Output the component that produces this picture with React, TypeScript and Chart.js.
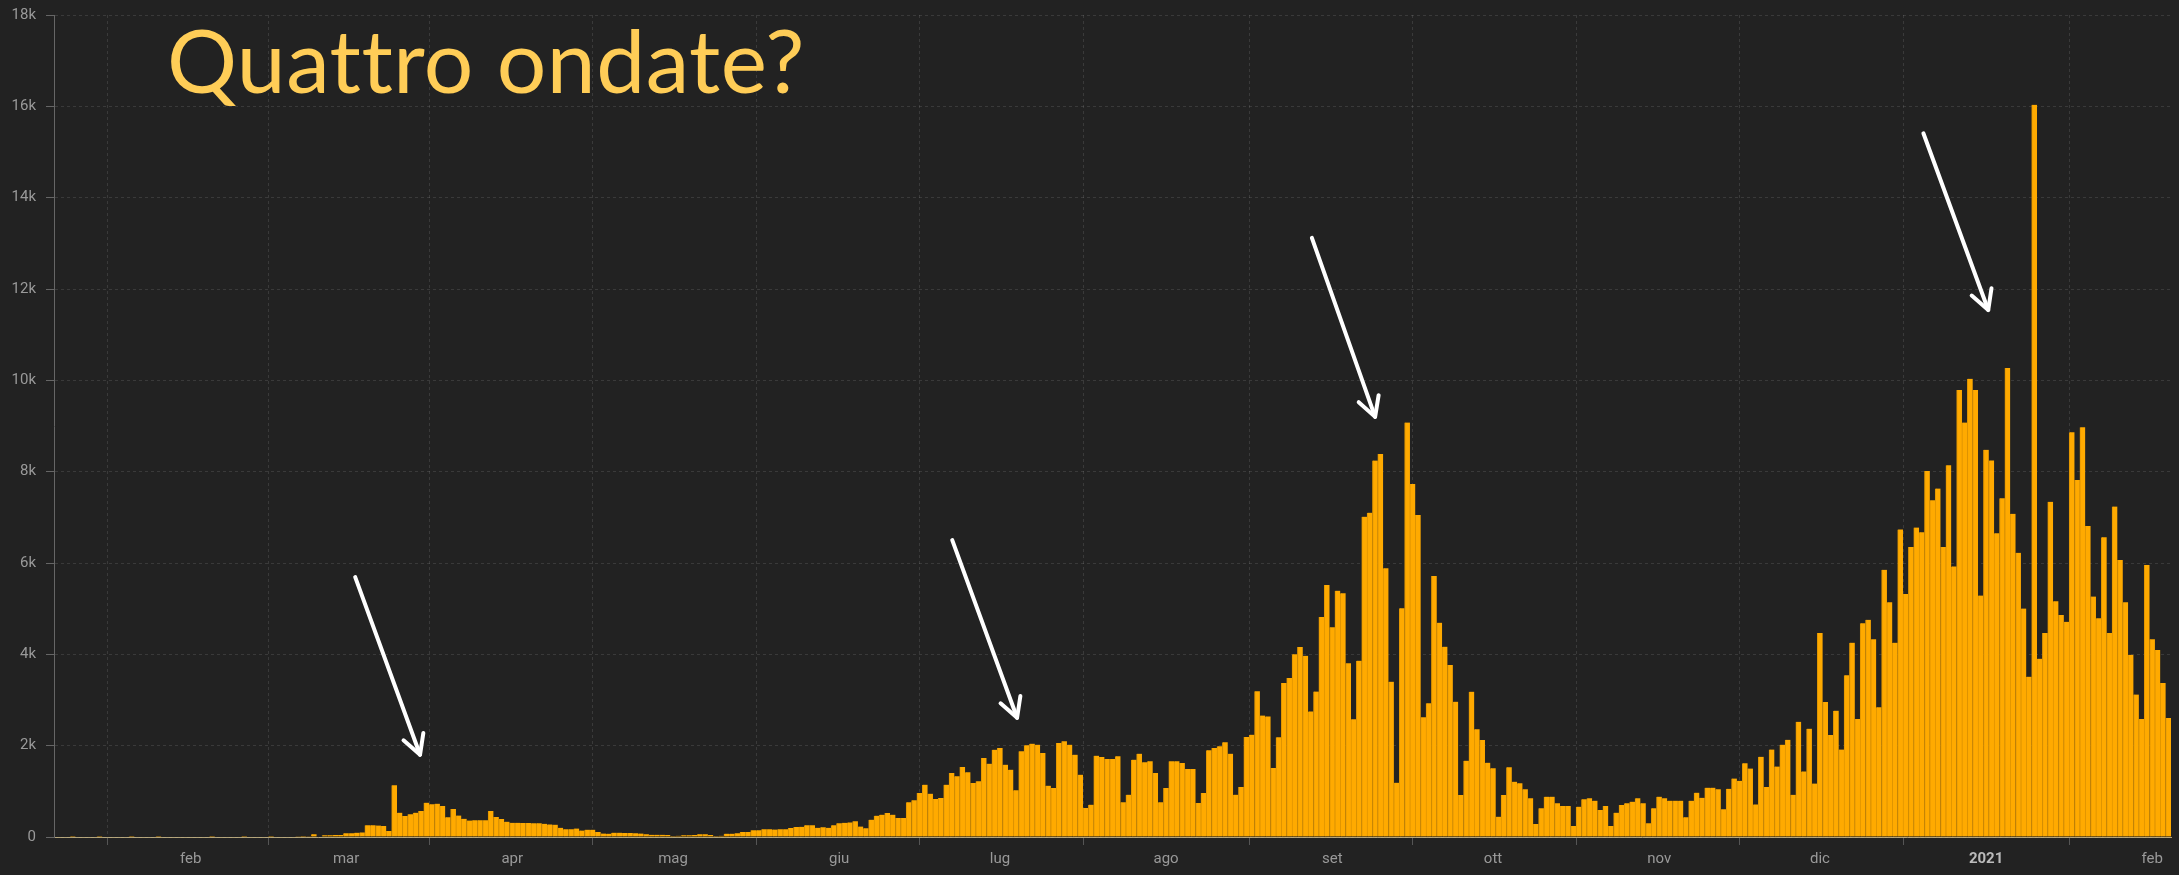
import React, { useEffect, useRef } from 'react';
import { Chart, registerables } from 'chart.js';

Chart.register(...registerables);

// ---------- data ----------
const START_DATE = '2020-01-07';

const JAN_2020 = [0, 0, 0, 1, 0, 0, 0, 0, 1, 0, 0, 0, 0, 0, 2, 0, 0, 0, 0, 1, 0, 0, 0, 0, 0];
const FEB_2020 = [0, 0, 0, 0, 1, 0, 0, 0, 0, 0, 2, 0, 0, 0, 0, 1, 0, 0, 0, 0, 3, 2, 5, 58, 10, 40, 40, 45, 45];
const MAR_2020 = [80, 80, 95, 100, 255, 255, 250, 240, 130, 1131, 533, 460, 496, 533, 570, 752, 715, 730, 680, 430, 615, 470, 400, 360, 365, 365, 365, 570, 440, 395, 335];
const APR_2020 = [310, 310, 305, 305, 300, 300, 290, 275, 270, 200, 170, 170, 185, 140, 160, 160, 110, 75, 73, 95, 95, 90, 85, 80, 75, 60, 50, 50, 50, 45];
const MAY_2020 = [22, 25, 37, 37, 45, 58, 58, 44, 22, 25, 73, 73, 80, 110, 110, 146, 150, 168, 168, 165, 168, 170, 197, 219, 225, 255, 255, 200, 215, 200, 260];
const JUN_2020 = [300, 310, 320, 345, 230, 190, 380, 467, 489, 526, 489, 416, 416, 759, 803, 964, 1146, 949, 832, 854, 1146, 1402, 1329, 1533, 1416, 1183, 1219, 1730, 1606, 1913];
const JUL_2020 = [1949, 1584, 1475, 1022, 1876, 2007, 2044, 2022, 1840, 1124, 1073, 2059, 2095, 2022, 1803, 1365, 635, 708, 1781, 1752, 1708, 1708, 1767, 759, 927, 1694, 1825, 1635, 1657, 1402, 759];
const AUG_2020 = [1073, 1657, 1657, 1621, 1489, 1489, 745, 964, 1898, 1949, 1986, 2073, 1825, 927, 1095, 2190, 2241, 3190, 2660, 2640, 1510, 2186, 3370, 3480, 4000, 4158, 3968, 2750, 3186, 4820, 5519];
const SEP_2020 = [4592, 5395, 5336, 3803, 2577, 3862, 7015, 7103, 8242, 8388, 5884, 3402, 1190, 5008, 9074, 7731, 7052, 2621, 2927, 5716, 4694, 4168, 3767, 2964, 920, 1672, 3183, 2358, 2124, 1628];
const OCT_2020 = [1504, 445, 920, 1526, 1212, 1175, 1044, 847, 285, 628, 883, 883, 737, 679, 679, 241, 664, 825, 847, 796, 591, 679, 241, 533, 701, 737, 774, 847, 737, 299, 628];
const NOV_2020 = [883, 847, 796, 796, 796, 431, 796, 971, 860, 1080, 1080, 1045, 610, 1055, 1280, 1230, 1615, 1500, 713, 1756, 1096, 1915, 1543, 2022, 2128, 926, 2522, 1436, 2373, 1170];
const DEC_2020 = [4469, 2958, 2234, 2766, 1915, 3543, 4256, 2585, 4682, 4756, 4330, 2841, 5852, 5139, 4256, 6735, 5320, 6352, 6778, 6671, 8012, 7374, 7629, 6352, 8140, 5926, 9789, 9076, 10033, 9789, 5288];
const JAN_2021 = [8480, 8246, 6650, 7416, 10268, 7076, 6224, 5001, 3511, 16035, 3905, 4469, 7342, 5160, 4862, 4714, 8863, 7820, 8970, 6810, 5267, 4788, 6565, 4469, 7235, 6065, 5139, 3990, 3118, 2585, 5958];
const FEB_2021 = [4330, 4096, 3373, 2607];

const TICK_DATES = ['2020-01-01', '2020-02-01', '2020-03-01', '2020-04-01', '2020-05-01', '2020-06-01', '2020-07-01', '2020-08-01', '2020-09-01', '2020-10-01', '2020-11-01', '2020-12-01', '2021-01-01', '2021-02-01'];
const TICK_LABELS = ['', 'feb', 'mar', 'apr', 'mag', 'giu', 'lug', 'ago', 'set', 'ott', 'nov', 'dic', '2021', 'feb'];
const MAJOR_LABEL = '2021';

const Y_MAX = 18000;
const Y_STEP = 2000;

const TITLE = 'Quattro ondate?';

// arrows: [day offset from START_DATE, value] for tail and tip
const ARROWS = [
  { tail: [55.7, 5690], tip: [67.8, 1800] },
  { tail: [167.1, 6500], tip: [179.2, 2610] },
  { tail: [234.2, 13120], tip: [246.0, 9200] },
  { tail: [348.3, 15410], tip: [360.4, 11540] },
];

// ---------- helpers ----------
const DAY_MS = 86400000;
const dayNum = (iso: string) => Date.parse(iso + 'T00:00:00Z') / DAY_MS;

const VALUES = [
  ...JAN_2020, ...FEB_2020, ...MAR_2020, ...APR_2020, ...MAY_2020, ...JUN_2020,
  ...JUL_2020, ...AUG_2020, ...SEP_2020, ...OCT_2020, ...NOV_2020, ...DEC_2020,
  ...JAN_2021, ...FEB_2021,
];
const START_DAY = dayNum(START_DATE);
const DAYS = VALUES.map((_, i) => START_DAY + i);
const TICK_DAYS = TICK_DATES.map(dayNum);

const BG = '#222222';
const BAR = '#FFAA00';
const BAR_EDGE = '#E09500';
const TICK_FONT = 'Roboto, "Liberation Sans", sans-serif';
const TITLE_FONT = 'Lato, "Open Sans", sans-serif';

const overlayPlugin = {
  id: 'overlay',
  afterDraw(chart: any) {
    const { ctx, chartArea, scales } = chart;
    const x = scales.x;
    const y = scales.y;
    ctx.save();
    // title (small letter spacing keeps the "tt" from forming a ligature)
    try { (ctx as any).letterSpacing = '0.5px'; } catch (e) { /* ignore */ }
    ctx.font = `100px ${TITLE_FONT}`;
    const w100 = ctx.measureText(TITLE).width;
    const size = (100 * 637) / w100;
    ctx.font = `${size}px ${TITLE_FONT}`;
    ctx.fillStyle = '#FFCD57';
    ctx.textBaseline = 'alphabetic';
    ctx.textAlign = 'left';
    ctx.fillText(TITLE, chartArea.left + 113, chartArea.top + 78);
    try { (ctx as any).letterSpacing = '0px'; } catch (e) { /* ignore */ }

    // arrows
    ctx.strokeStyle = '#ffffff';
    ctx.lineWidth = 4;
    ctx.lineCap = 'round';
    ctx.lineJoin = 'round';
    for (const a of ARROWS) {
      const x1 = x.getPixelForValue(START_DAY + a.tail[0]);
      const y1 = y.getPixelForValue(a.tail[1]);
      const x2 = x.getPixelForValue(START_DAY + a.tip[0]);
      const y2 = y.getPixelForValue(a.tip[1]);
      ctx.beginPath();
      ctx.moveTo(x1, y1);
      ctx.lineTo(x2, y2);
      ctx.stroke();
      const ang = Math.atan2(y2 - y1, x2 - x1);
      const hl = 22;
      const ha = 0.5;
      ctx.beginPath();
      ctx.moveTo(x2 - hl * Math.cos(ang - ha), y2 - hl * Math.sin(ang - ha));
      ctx.lineTo(x2, y2);
      ctx.lineTo(x2 - hl * Math.cos(ang + ha), y2 - hl * Math.sin(ang + ha));
      ctx.stroke();
    }
    ctx.restore();
  },
};

export default function App() {
  const canvasRef = useRef<HTMLCanvasElement | null>(null);

  useEffect(() => {
    document.body.style.margin = '0';
    document.body.style.background = BG;
    const canvas = canvasRef.current;
    if (!canvas) return;
    const chart = new Chart(canvas, {
      type: 'bar',
      data: {
        labels: DAYS,
        datasets: [
          {
            data: VALUES,
            backgroundColor: BAR,
            borderColor: BAR_EDGE,
            borderWidth: { left: 1, right: 0, top: 0, bottom: 0 },
            barPercentage: 1,
            categoryPercentage: 1,
          },
        ],
      },
      options: {
        animation: false,
        responsive: true,
        maintainAspectRatio: false,
        layout: { padding: { left: 8, right: 8, top: 15, bottom: 8 } },
        plugins: {
          legend: { display: false },
          tooltip: { enabled: false },
          title: { display: false },
        },
        scales: {
          x: {
            type: 'linear',
            offset: false,
            min: START_DAY - 0.5,
            max: START_DAY + VALUES.length - 0.5,
            afterBuildTicks: (s: any) => {
              s.ticks = TICK_DAYS.map((v) => ({ value: v }));
            },
            afterFit: (s: any) => {
              s.height = 30;
              s.paddingLeft = 0;
              s.paddingRight = 0;
            },
            grid: {
              offset: true,
              color: 'rgba(255,255,255,0.11)',
              tickColor: '#555555',
              tickLength: 8,
            },
            border: { display: true, color: 'rgba(225,205,150,0.75)', dash: [3, 3] },
            ticks: {
              autoSkip: false,
              maxRotation: 0,
              minRotation: 0,
              padding: 5,
              color: (ctx: any) => (TICK_LABELS[ctx.index] === MAJOR_LABEL ? '#bbbbbb' : '#999999'),
              font: (ctx: any) => ({
                family: TICK_FONT,
                size: 15,
                weight: TICK_LABELS[ctx.index] === MAJOR_LABEL ? 'bold' : 'normal',
              }),
              callback: (_v: any, i: number) => TICK_LABELS[i],
            },
          },
          y: {
            type: 'linear',
            min: 0,
            max: Y_MAX,
            afterFit: (s: any) => {
              s.width = 46;
              s.paddingTop = 0;
              s.paddingBottom = 0;
            },
            grid: {
              color: 'rgba(255,255,255,0.11)',
              tickColor: '#666666',
              tickLength: 8,
            },
            border: { display: true, color: '#666666', dash: [3, 3] },
            ticks: {
              stepSize: Y_STEP,
              padding: 10,
              color: '#9a9a9a',
              font: { family: TICK_FONT, size: 15 },
              callback: (v: any) => (Number(v) === 0 ? '0' : `${Number(v) / 1000}k`),
            },
          },
        },
      },
      plugins: [overlayPlugin],
    } as any);
    return () => chart.destroy();
  }, []);

  return (
    <div style={{ width: '2179px', height: '875px', position: 'relative', background: BG }}>
      <canvas ref={canvasRef} />
    </div>
  );
}
